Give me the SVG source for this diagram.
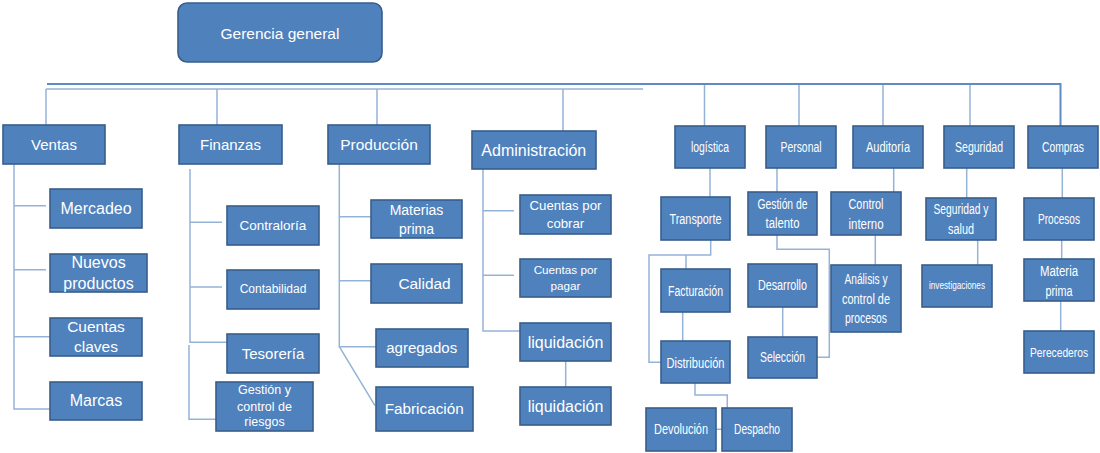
<svg xmlns="http://www.w3.org/2000/svg" width="1100" height="453" viewBox="0 0 1100 453">
<style>
.box{fill:#4F81BD;stroke:#385D8A;stroke-width:1.6}
.ln{fill:none;stroke:#95B3D7;stroke-width:1.5}
.bus{fill:none;stroke:#5F8AC4;stroke-width:2}
.t{fill:#FFFFFF;font-family:"Liberation Sans",Arial,sans-serif;text-anchor:middle}
.r{font-size:14px}
</style>
<rect width="1100" height="453" fill="#FFFFFF"/>
<g id="connectors">
<path class="bus" d="M47 84 H1060.5 V126"/>
<path class="ln" d="M46 89 H643"/>
<path class="ln" d="M46 89 V125 M217 89 V125 M377 89 V125 M563 89 V131"/>
<path class="ln" d="M704.5 85 V126 M799 85 V126 M883 85 V126 M970 85 V126"/>
<path class="ln" d="M14 164 V409 H50 M14 205.7 H46 M14 269.7 H46 M14 336.7 H50"/>
<path class="ln" d="M190 169 V342.3 H227 M190 222.3 H222 M190 287 H222 M189 345 V419.3 H216"/>
<path class="ln" d="M339.3 164 V346.7 H376 M339.3 216.7 H371 M339.3 280.7 H371 M339.3 346.7 L375 405.7"/>
<path class="ln" d="M483 169 V331 H520 M483 210.7 H514 M483 275.3 H514 M565.7 361 V387"/>
<path class="ln" d="M710 168 V197 M710.7 240 V255 H649 V362.3 H661 M686 255 V269 M682.7 312 V341 M695 383 V395 H727.3 V408 M716 429.3 H722"/>
<path class="ln" d="M777 168 V192 M777 235 V249.3 H829.3 V357.3 H817 M782.7 307 V337"/>
<path class="ln" d="M893.7 168 V192 M875.3 235 V265"/>
<path class="ln" d="M966.7 168 V198 M977.7 240 V265"/>
<path class="ln" d="M1062.3 168 V198 M1061.7 240 V259 M1060.7 301 V331"/>
</g>
<g id="gerencia"><rect class="box" x="178" y="3" width="204" height="59" rx="9"/><text class="t" x="280" y="38.5" font-size="15.5">Gerencia general</text></g>
<g id="ventas"><rect class="box" x="3" y="125" width="102" height="39"/><text class="t" x="54" y="150" font-size="15">Ventas</text></g>
<g id="finanzas"><rect class="box" x="179" y="125" width="103" height="39"/><text class="t" x="230.5" y="150" font-size="15">Finanzas</text></g>
<g id="produccion"><rect class="box" x="328" y="125" width="102" height="39"/><text class="t" x="379" y="149.8" font-size="15.5">Producción</text></g>
<g id="administracion"><rect class="box" x="472" y="131" width="124" height="38"/><text class="t" x="533.8" y="155.6" font-size="16">Administración</text></g>
<g id="mercadeo"><rect class="box" x="50" y="189" width="92" height="39"/><text class="t" x="96" y="213.9" font-size="16">Mercadeo</text></g>
<g id="nuevos-productos"><rect class="box" x="50" y="254" width="97" height="38"/><text class="t" x="98.5" y="268.3" font-size="16">Nuevos</text><text class="t" x="98.5" y="288.9" font-size="16">productos</text></g>
<g id="cuentas-claves"><rect class="box" x="50" y="318" width="92" height="38"/><text class="t" x="96" y="332.3" font-size="15.5">Cuentas</text><text class="t" x="96" y="352.3" font-size="15.5">claves</text></g>
<g id="marcas"><rect class="box" x="50" y="382" width="92" height="38"/><text class="t" x="96" y="405.6" font-size="16">Marcas</text></g>
<g id="contraloria"><rect class="box" x="227" y="206" width="92" height="39"/><text class="t" x="273" y="229.7" font-size="13.5">Contraloría</text></g>
<g id="contabilidad"><rect class="box" x="227" y="270" width="92" height="39"/><text class="t" x="273" y="292.9" font-size="12">Contabilidad</text></g>
<g id="tesoreria"><rect class="box" x="227" y="334" width="92" height="39"/><text class="t" x="273" y="358.6" font-size="15">Tesorería</text></g>
<g id="gestion-riesgos"><rect class="box" x="216" y="382" width="97" height="49"/><text class="t" x="264.5" y="394.4" font-size="12.5">Gestión y</text><text class="t" x="264.5" y="411.1" font-size="12.5">control de</text><text class="t" x="264.5" y="426.1" font-size="12.5">riesgos</text></g>
<g id="materias-prima"><rect class="box" x="371" y="200" width="91" height="38"/><text class="t" x="416.5" y="214.9" font-size="14">Materias</text><text class="t" x="416.5" y="233.6" font-size="14">prima</text></g>
<g id="calidad"><rect class="box" x="371" y="264" width="91" height="39"/><text class="t" x="424.5" y="288.7" font-size="15.4">Calidad</text></g>
<g id="agregados"><rect class="box" x="376" y="329" width="92" height="38"/><text class="t" x="421.7" y="352.6" font-size="15">agregados</text></g>
<g id="fabricacion"><rect class="box" x="376" y="387" width="97" height="44"/><text class="t" x="424.2" y="414" font-size="15.3">Fabricación</text></g>
<g id="cuentas-cobrar"><rect class="box" x="520" y="195" width="91" height="39"/><text class="t" x="565.5" y="210.3" font-size="13.2">Cuentas por</text><text class="t" x="565.5" y="228.3" font-size="13.2">cobrar</text></g>
<g id="cuentas-pagar"><rect class="box" x="520" y="259" width="91" height="38"/><text class="t" x="565.5" y="274.1" font-size="11.7">Cuentas por</text><text class="t" x="565.5" y="289.8" font-size="11.7">pagar</text></g>
<g id="liquidacion-1"><rect class="box" x="520" y="323" width="91" height="38"/><text class="t" x="565.5" y="347.6" font-size="16">liquidación</text></g>
<g id="liquidacion-2"><rect class="box" x="520" y="387" width="91" height="38"/><text class="t" x="565.5" y="411.6" font-size="16">liquidación</text></g>
<g id="logistica"><rect class="box" x="675" y="126" width="70" height="42"/><text class="t r" x="710" y="152.3" textLength="38" lengthAdjust="spacingAndGlyphs">logística</text></g>
<g id="personal"><rect class="box" x="766" y="126" width="70" height="42"/><text class="t r" x="801" y="152.3" textLength="41" lengthAdjust="spacingAndGlyphs">Personal</text></g>
<g id="auditoria"><rect class="box" x="853" y="126" width="70" height="42"/><text class="t r" x="888" y="152.3" textLength="44" lengthAdjust="spacingAndGlyphs">Auditoría</text></g>
<g id="seguridad"><rect class="box" x="944" y="126" width="70" height="42"/><text class="t r" x="979" y="152.3" textLength="48" lengthAdjust="spacingAndGlyphs">Seguridad</text></g>
<g id="compras"><rect class="box" x="1028" y="126" width="70" height="42"/><text class="t r" x="1063" y="152.3" textLength="42" lengthAdjust="spacingAndGlyphs">Compras</text></g>
<g id="transporte"><rect class="box" x="661" y="197" width="69" height="43"/><text class="t r" x="695.5" y="224" textLength="52" lengthAdjust="spacingAndGlyphs">Transporte</text></g>
<g id="gestion-talento"><rect class="box" x="748" y="192" width="69" height="43"/><text class="t r" x="782.5" y="209" textLength="50" lengthAdjust="spacingAndGlyphs">Gestión de</text><text class="t r" x="782.5" y="228.3" textLength="34" lengthAdjust="spacingAndGlyphs">talento</text></g>
<g id="control-interno"><rect class="box" x="831" y="192" width="70" height="43"/><text class="t r" x="866" y="209" textLength="35" lengthAdjust="spacingAndGlyphs">Control</text><text class="t r" x="866" y="229" textLength="35" lengthAdjust="spacingAndGlyphs">interno</text></g>
<g id="seguridad-salud"><rect class="box" x="926" y="198" width="70" height="42"/><text class="t r" x="961" y="214.3" textLength="55" lengthAdjust="spacingAndGlyphs">Seguridad y</text><text class="t r" x="961" y="233.7" textLength="26" lengthAdjust="spacingAndGlyphs">salud</text></g>
<g id="procesos"><rect class="box" x="1024" y="198" width="70" height="42"/><text class="t r" x="1059" y="224" textLength="42" lengthAdjust="spacingAndGlyphs">Procesos</text></g>
<g id="facturacion"><rect class="box" x="661" y="269" width="69" height="43"/><text class="t r" x="695.5" y="296" textLength="55" lengthAdjust="spacingAndGlyphs">Facturación</text></g>
<g id="distribucion"><rect class="box" x="661" y="341" width="69" height="42"/><text class="t r" x="695.5" y="367.7" textLength="58" lengthAdjust="spacingAndGlyphs">Distribución</text></g>
<g id="desarrollo"><rect class="box" x="748" y="264" width="69" height="43"/><text class="t r" x="782.5" y="290.3" textLength="49" lengthAdjust="spacingAndGlyphs">Desarrollo</text></g>
<g id="seleccion"><rect class="box" x="748" y="337" width="69" height="41"/><text class="t r" x="782.5" y="362.3" textLength="45" lengthAdjust="spacingAndGlyphs">Selección</text></g>
<g id="analisis"><rect class="box" x="831" y="265" width="70" height="67"/><text class="t r" x="866" y="284" textLength="43" lengthAdjust="spacingAndGlyphs">Análisis y</text><text class="t r" x="866" y="303.7" textLength="48" lengthAdjust="spacingAndGlyphs">control de</text><text class="t r" x="866" y="323.3" textLength="42" lengthAdjust="spacingAndGlyphs">procesos</text></g>
<g id="investigaciones"><rect class="box" x="922" y="265" width="70" height="42"/><text class="t" x="957" y="289" font-size="11" textLength="56" lengthAdjust="spacingAndGlyphs">investigaciones</text></g>
<g id="materia-prima"><rect class="box" x="1024" y="259" width="70" height="42"/><text class="t r" x="1059" y="275.7" textLength="38" lengthAdjust="spacingAndGlyphs">Materia</text><text class="t r" x="1059" y="295.7" textLength="27" lengthAdjust="spacingAndGlyphs">prima</text></g>
<g id="perecederos"><rect class="box" x="1024" y="331" width="70" height="42"/><text class="t" x="1059" y="356.5" font-size="12" textLength="58" lengthAdjust="spacingAndGlyphs">Perecederos</text></g>
<g id="devolucion"><rect class="box" x="646" y="408" width="70" height="43"/><text class="t r" x="681" y="434.3" textLength="54" lengthAdjust="spacingAndGlyphs">Devolución</text></g>
<g id="despacho"><rect class="box" x="722" y="408" width="70" height="43"/><text class="t r" x="757" y="434.3" textLength="46" lengthAdjust="spacingAndGlyphs">Despacho</text></g>
</svg>
